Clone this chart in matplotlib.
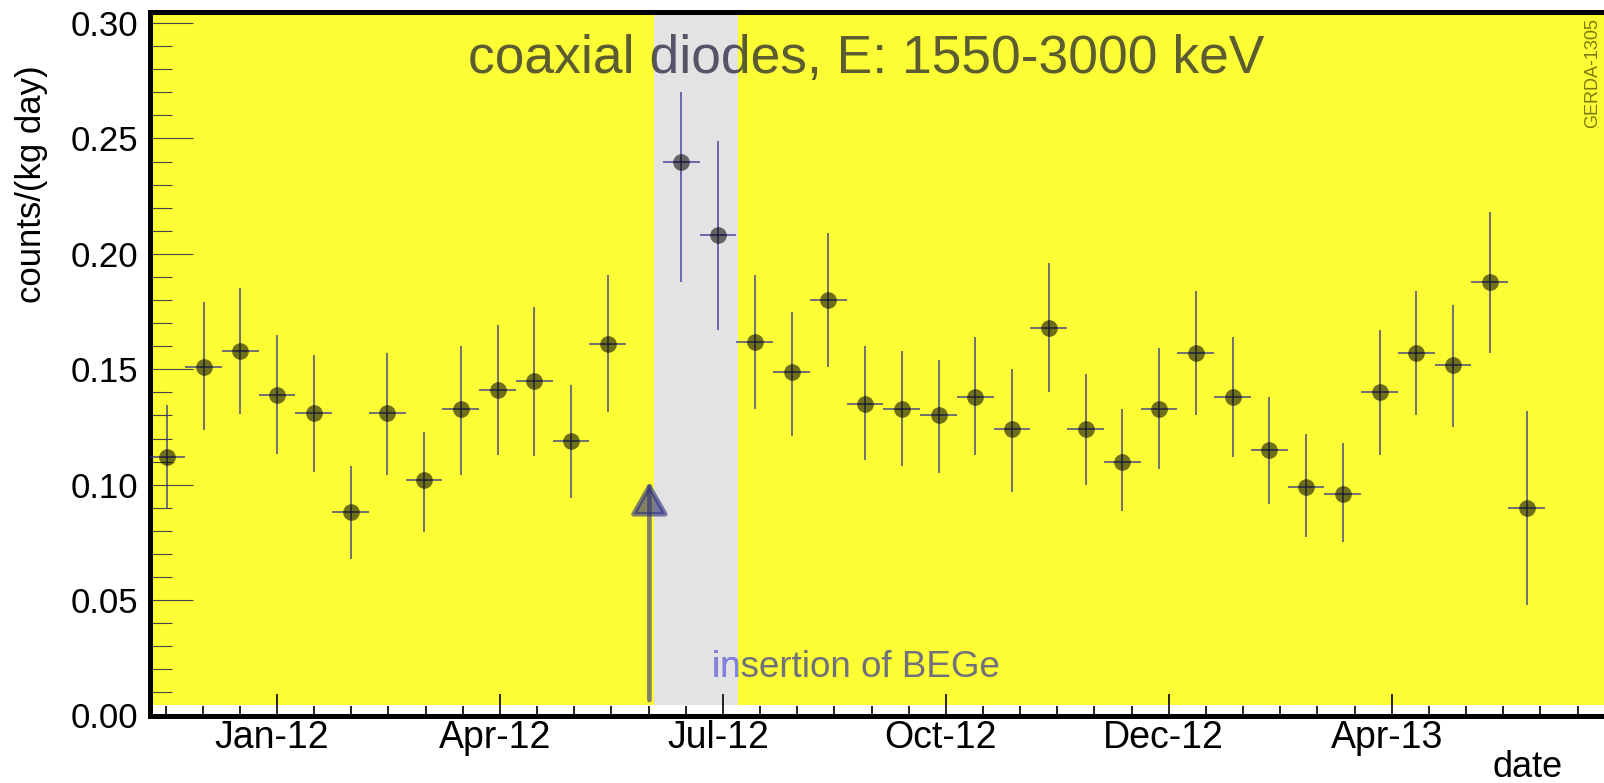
import numpy as np
import matplotlib
matplotlib.use("Agg")
import matplotlib.pyplot as plt
import matplotlib.dates as mdates
import matplotlib.transforms as mtransforms
from matplotlib.ticker import FixedLocator, FuncFormatter

plt.rcParams['font.family'] = ['Liberation Sans', 'DejaVu Sans']

# ---------------- data ----------------
bin_dates = ['2011-11-18', '2011-12-03', '2011-12-18', '2012-01-02', '2012-01-17',
             '2012-02-01', '2012-02-16', '2012-03-02', '2012-03-17', '2012-04-01',
             '2012-04-16', '2012-05-01', '2012-05-16', '2012-06-15', '2012-06-30',
             '2012-07-15', '2012-07-30', '2012-08-14', '2012-08-29', '2012-09-13',
             '2012-09-28', '2012-10-13', '2012-10-28', '2012-11-12', '2012-11-27',
             '2012-12-12', '2012-12-27', '2013-01-11', '2013-01-26', '2013-02-10',
             '2013-02-25', '2013-03-12', '2013-03-27', '2013-04-11', '2013-04-26',
             '2013-05-11', '2013-05-26']
rate = [0.112, 0.151, 0.158, 0.139, 0.131, 0.088, 0.131, 0.102, 0.133, 0.141,
        0.145, 0.119, 0.161, 0.240, 0.208, 0.162, 0.149, 0.180, 0.135, 0.133,
        0.130, 0.138, 0.124, 0.168, 0.124, 0.110, 0.133, 0.157, 0.138, 0.115,
        0.099, 0.096, 0.140, 0.157, 0.152, 0.188, 0.090]
rate_high = [0.1345, 0.179, 0.185, 0.165, 0.156, 0.108, 0.157, 0.123, 0.160, 0.169,
             0.177, 0.143, 0.191, 0.270, 0.249, 0.191, 0.175, 0.209, 0.160, 0.158,
             0.154, 0.164, 0.150, 0.196, 0.148, 0.133, 0.159, 0.184, 0.164, 0.138,
             0.122, 0.118, 0.167, 0.184, 0.178, 0.218, 0.132]
rate_low = [0.0897, 0.1235, 0.1306, 0.1133, 0.1057, 0.068, 0.104, 0.0795, 0.1044, 0.1128,
            0.1124, 0.0942, 0.1315, 0.188, 0.167, 0.133, 0.121, 0.151, 0.1105, 0.108,
            0.105, 0.113, 0.097, 0.140, 0.100, 0.0884, 0.107, 0.130, 0.112, 0.0915,
            0.0773, 0.075, 0.1128, 0.130, 0.125, 0.157, 0.048]
bin_half_width_days = 7.5

band_start, band_end = '2012-06-04', '2012-07-08'
arrow_date = '2012-06-02'
arrow_from, arrow_to = 0.0067, 0.1013

title_text = 'coaxial diodes, E: 1550-3000 keV'
note_text = 'insertion of BEGe'
stamp_text = 'GERDA-1305'
y_label = 'counts/(kg day)'
x_label = 'date'
y_ticks = [0.00, 0.05, 0.10, 0.15, 0.20, 0.25, 0.30]

# ---------------- figure ----------------
W, H = 1604, 783
fig = plt.figure(figsize=(W / 100, H / 100), dpi=100)
ax_l, ax_r, ax_t, ax_b = 149.5, 1625.0, 11.5, 715.5
ax = fig.add_axes([ax_l / W, 1 - ax_b / H, (ax_r - ax_l) / W, (ax_b - ax_t) / H])
ax.set_facecolor('white')

def dnum(s):
    return mdates.date2num(np.datetime64(s))

x = mdates.date2num(np.array(bin_dates, dtype='datetime64[D]'))
y = np.array(rate)
yerr = [y - np.array(rate_low), np.array(rate_high) - y]

day0 = dnum('2012-01-02')
px_per_day = 2.45
ax.set_xlim(day0 + (ax_l - 277.0) / px_per_day, day0 + (ax_r - 277.0) / px_per_day)
ax.set_ylim(0, 0.305)

# backgrounds
strip = 10.5 / (ax_b - ax_t)
ax.add_patch(plt.Rectangle((0, strip), 1, 1 - strip, transform=ax.transAxes,
                           facecolor='#fdfd36', edgecolor='none', zorder=0.1))
band = ax.axvspan(dnum(band_start), dnum(band_end), ymin=strip, ymax=1,
                  facecolor='#e3e3e3', edgecolor='none', zorder=0.2)

# error bars and markers
ax.errorbar(x, y, yerr=yerr, xerr=bin_half_width_days, fmt='none',
            ecolor='#2a2a90', alpha=0.72, elinewidth=1.3, capsize=0, zorder=3)
ax.plot(x, y, 'o', ms=12, color='black', alpha=0.56, mew=0, zorder=4)

# arrow
ax.annotate('', xy=(dnum(arrow_date), arrow_to), xytext=(dnum(arrow_date), arrow_from),
            arrowprops=dict(arrowstyle='-|>,head_length=1.0,head_width=0.57',
                            mutation_scale=20, color='#303080', alpha=0.6, lw=3.4,
                            shrinkA=0, shrinkB=0), zorder=3)

# texts
ax.text((468.5 - ax_l) / (ax_r - ax_l), (ax_b - 73.3) / (ax_b - ax_t), title_text,
        transform=ax.transAxes, ha='left', va='baseline', fontsize=38.4,
        color='#101030', alpha=0.68, zorder=5)
nx, ny = (712.3 - ax_l) / (ax_r - ax_l), (ax_b - 676.7) / (ax_b - ax_t)
ax.text(nx, ny, note_text, transform=ax.transAxes, ha='left', va='baseline',
        fontsize=26.5, color='#70707c', zorder=5)
t2 = ax.text(nx, ny, note_text, transform=ax.transAxes, ha='left', va='baseline',
             fontsize=26.5, color='#8080e6', zorder=5.1)
t2.set_clip_on(True)
t2.set_clip_path(band)

fig.text(1584 / W, 1 - 18 / H, stamp_text, rotation=90, ha='left', va='top',
         fontsize=13, color='#7a7a05')

# axes styling
for s in ['left', 'bottom', 'top']:
    ax.spines[s].set_linewidth(3.6)
    ax.spines[s].set_color('black')
ax.spines['right'].set_visible(False)

major_x = [day0 + 91 * k for k in range(6)]
minor_x = list(day0 + np.arange(-4, 37) * 91 / 6)
ax.xaxis.set_major_locator(FixedLocator(major_x))
ax.xaxis.set_minor_locator(FixedLocator(minor_x))
ax.xaxis.set_major_formatter(mdates.DateFormatter('%b-%y'))
ax.yaxis.set_major_locator(FixedLocator(y_ticks))
ax.yaxis.set_minor_locator(FixedLocator(list(np.arange(0, 0.305, 0.01))))
ax.yaxis.set_major_formatter(FuncFormatter(lambda v, p: f'{v:.2f}'))

ax.tick_params(axis='x', which='major', direction='in', length=16, width=1.2,
               color='black', labelsize=27, pad=3, top=False)
ax.tick_params(axis='x', which='minor', direction='in', length=7.5, width=1.2,
               color='black', top=False)
ax.tick_params(axis='y', which='major', direction='in', length=31, width=0.8,
               color='#444444', labelsize=25, pad=8, right=False)
ax.tick_params(axis='y', which='minor', direction='in', length=16, width=0.8,
               color='#444444', right=False)

shift = mtransforms.ScaledTranslation(-5 / 100, 0, fig.dpi_scale_trans)
for lab in ax.get_xticklabels():
    lab.set_transform(lab.get_transform() + shift)

fig.text(31.5 / W, 1 - 184.5 / H, y_label, rotation=90, ha='center', va='center',
         fontsize=25)
fig.text(1563 / W, 1 - 777 / H, x_label, ha='right', va='baseline', fontsize=26)

fig.savefig('out.png', dpi=100)
